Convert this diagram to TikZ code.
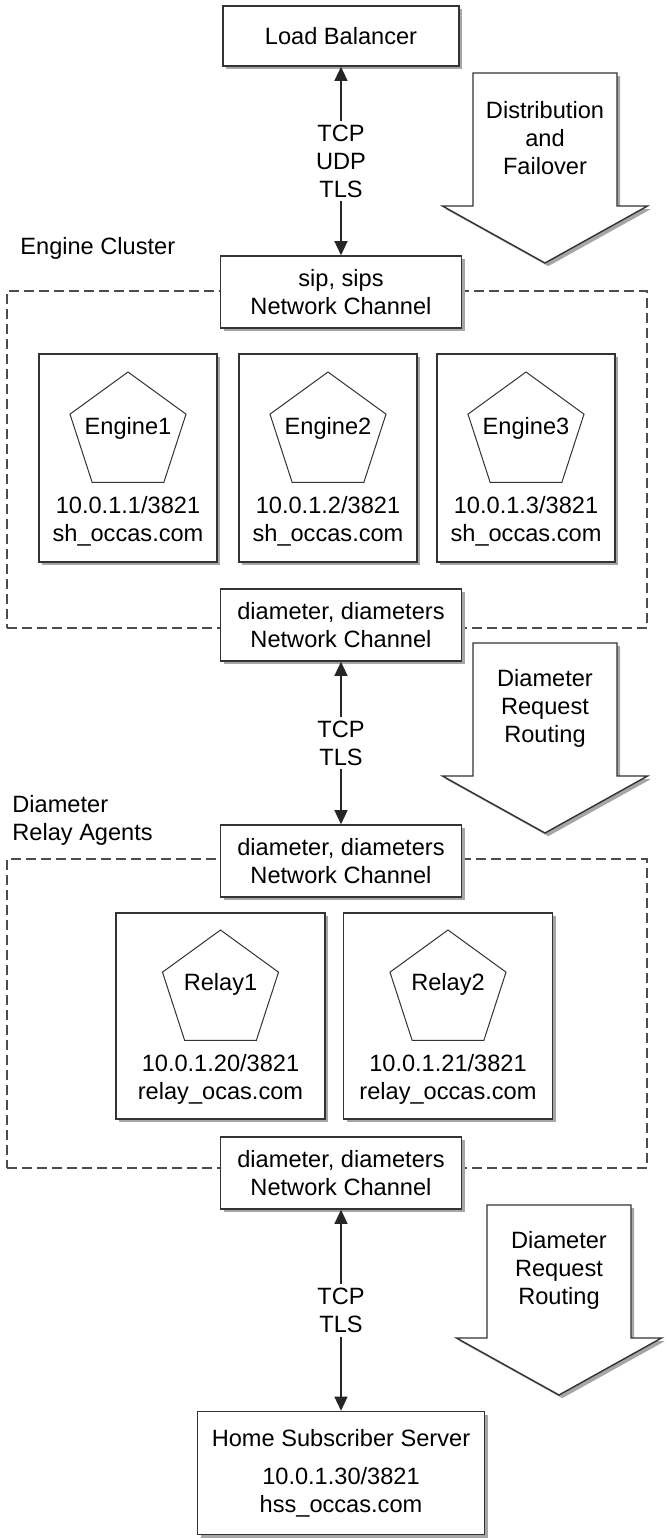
\documentclass[tikz,border=0pt]{standalone}
\usepackage{fontspec}
\setmainfont{Liberation Sans}
\usepackage{tikz}
\usetikzlibrary{arrows.meta,shadows,shapes.geometric,positioning,fit,calc}

\begin{document}
\begin{tikzpicture}[x=0.5pt,y=-0.5pt,
  font=\fontsize{11.8}{14}\selectfont,
  shade/.style={drop shadow={shadow xshift=1.6pt,shadow yshift=-1.6pt,fill=black!35,opacity=1}},
  box/.style={draw=black!80,line width=0.8pt,fill=white,align=center,inner sep=0pt,shade},
  chan/.style={box,minimum width=120.5pt,minimum height=36pt},
  host/.style={box,minimum width=89pt,minimum height=104pt},
  agent/.style={draw=black!80,line width=0.5pt,regular polygon,regular polygon sides=5,minimum size=61pt,inner sep=0pt},
  cluster/.style={draw=black!70,line width=0.75pt,dash pattern=on 5pt off 2.5pt,inner sep=0pt},
  link/.style={draw=black!85,line width=0.65pt,{Triangle[length=7pt,width=6.5pt]}-{Triangle[length=7pt,width=6.5pt]}},
  proto/.style={fill=white,align=center,inner sep=2pt},
  flow/.style={draw=black!80,line width=0.7pt,fill=white,shade}]
\useasboundingbox (0,0) rectangle (666,1539);

% dashed groups
\node[cluster,fit={(7,291) (647,628)}] (engcl) {};
\node[cluster,fit={(7,859) (647,1168)}] (relcl) {};
\node[anchor=west,inner sep=0pt] (englbl) at (20,248) {Engine Cluster};
\node[anchor=west,align=left,inner sep=0pt] (rellbl) at (12,820) {Diameter\\Relay Agents};

% channels and servers
\node[box,minimum width=118pt,minimum height=30pt] (lb) at (341,36) {Load Balancer};
\node[chan] (sip) at (341,292) {sip, sips\\Network Channel};
\node[chan] (dia1) at (341,625) {diameter, diameters\\Network Channel};
\node[chan] (dia2) at (341,861) {diameter, diameters\\Network Channel};
\node[chan] (dia3) at (341,1173) {diameter, diameters\\Network Channel};
\node[box,minimum width=143.5pt,minimum height=61.5pt] (hss) at (341,1473) {Home Subscriber Server\\[5pt]10.0.1.30/3821\\hss\_occas.com};

% engines
\foreach \i/\x/\ip in {1/128/10.0.1.1, 2/328/10.0.1.2, 3/526/10.0.1.3}{
  \node[host] (eng\i) at (\x,458) {};
  \node[agent] (epent\i) at (\x,433) {};
  \node[inner sep=0pt] (ename\i) at (\x,428) {Engine\i};
  \node[align=center,inner sep=0pt] (eaddr\i) at (\x,521) {\ip/3821\\sh\_occas.com};
}

% relays
\foreach \i/\x/\ip/\dom in {1/220.5/10.0.1.20/relay\_ocas.com, 2/448/10.0.1.21/relay\_occas.com}{
  \node[host,minimum width=104.5pt,minimum height=103pt] (rel\i) at (\x,1016) {};
  \node[agent] (rpent\i) at (\x,991) {};
  \node[inner sep=0pt] (rname\i) at (\x,984) {Relay\i};
  \node[align=center,inner sep=0pt] (raddr\i) at (\x,1079) {\ip/3821\\\dom};
}

% protocols
\draw[link] (lb) -- node[proto] (p1) {TCP\\UDP\\TLS} (sip);
\draw[link] (dia1) -- node[proto] (p2) {TCP\\TLS} (dia2);
\draw[link] (dia3) -- node[proto] (p3) {TCP\\TLS} (hss);

% block arrows
\foreach \n/\cx/\ty/\txt in {distr/545/73/{Distribution\\and\\Failover}, route1/545/643/{Diameter\\Request\\Routing}, route2/559/1205/{Diameter\\Request\\Routing}}{
  \draw[flow] (\cx-72,\ty) -- (\cx+72,\ty) -- (\cx+72,\ty+133) -- (\cx+102.5,\ty+133) -- (\cx,\ty+190) -- (\cx-102.5,\ty+133) -- (\cx-72,\ty+133) -- cycle;
  \node[align=center] (\n) at (\cx,\ty+65) {\txt};
}
\end{tikzpicture}
\end{document}
